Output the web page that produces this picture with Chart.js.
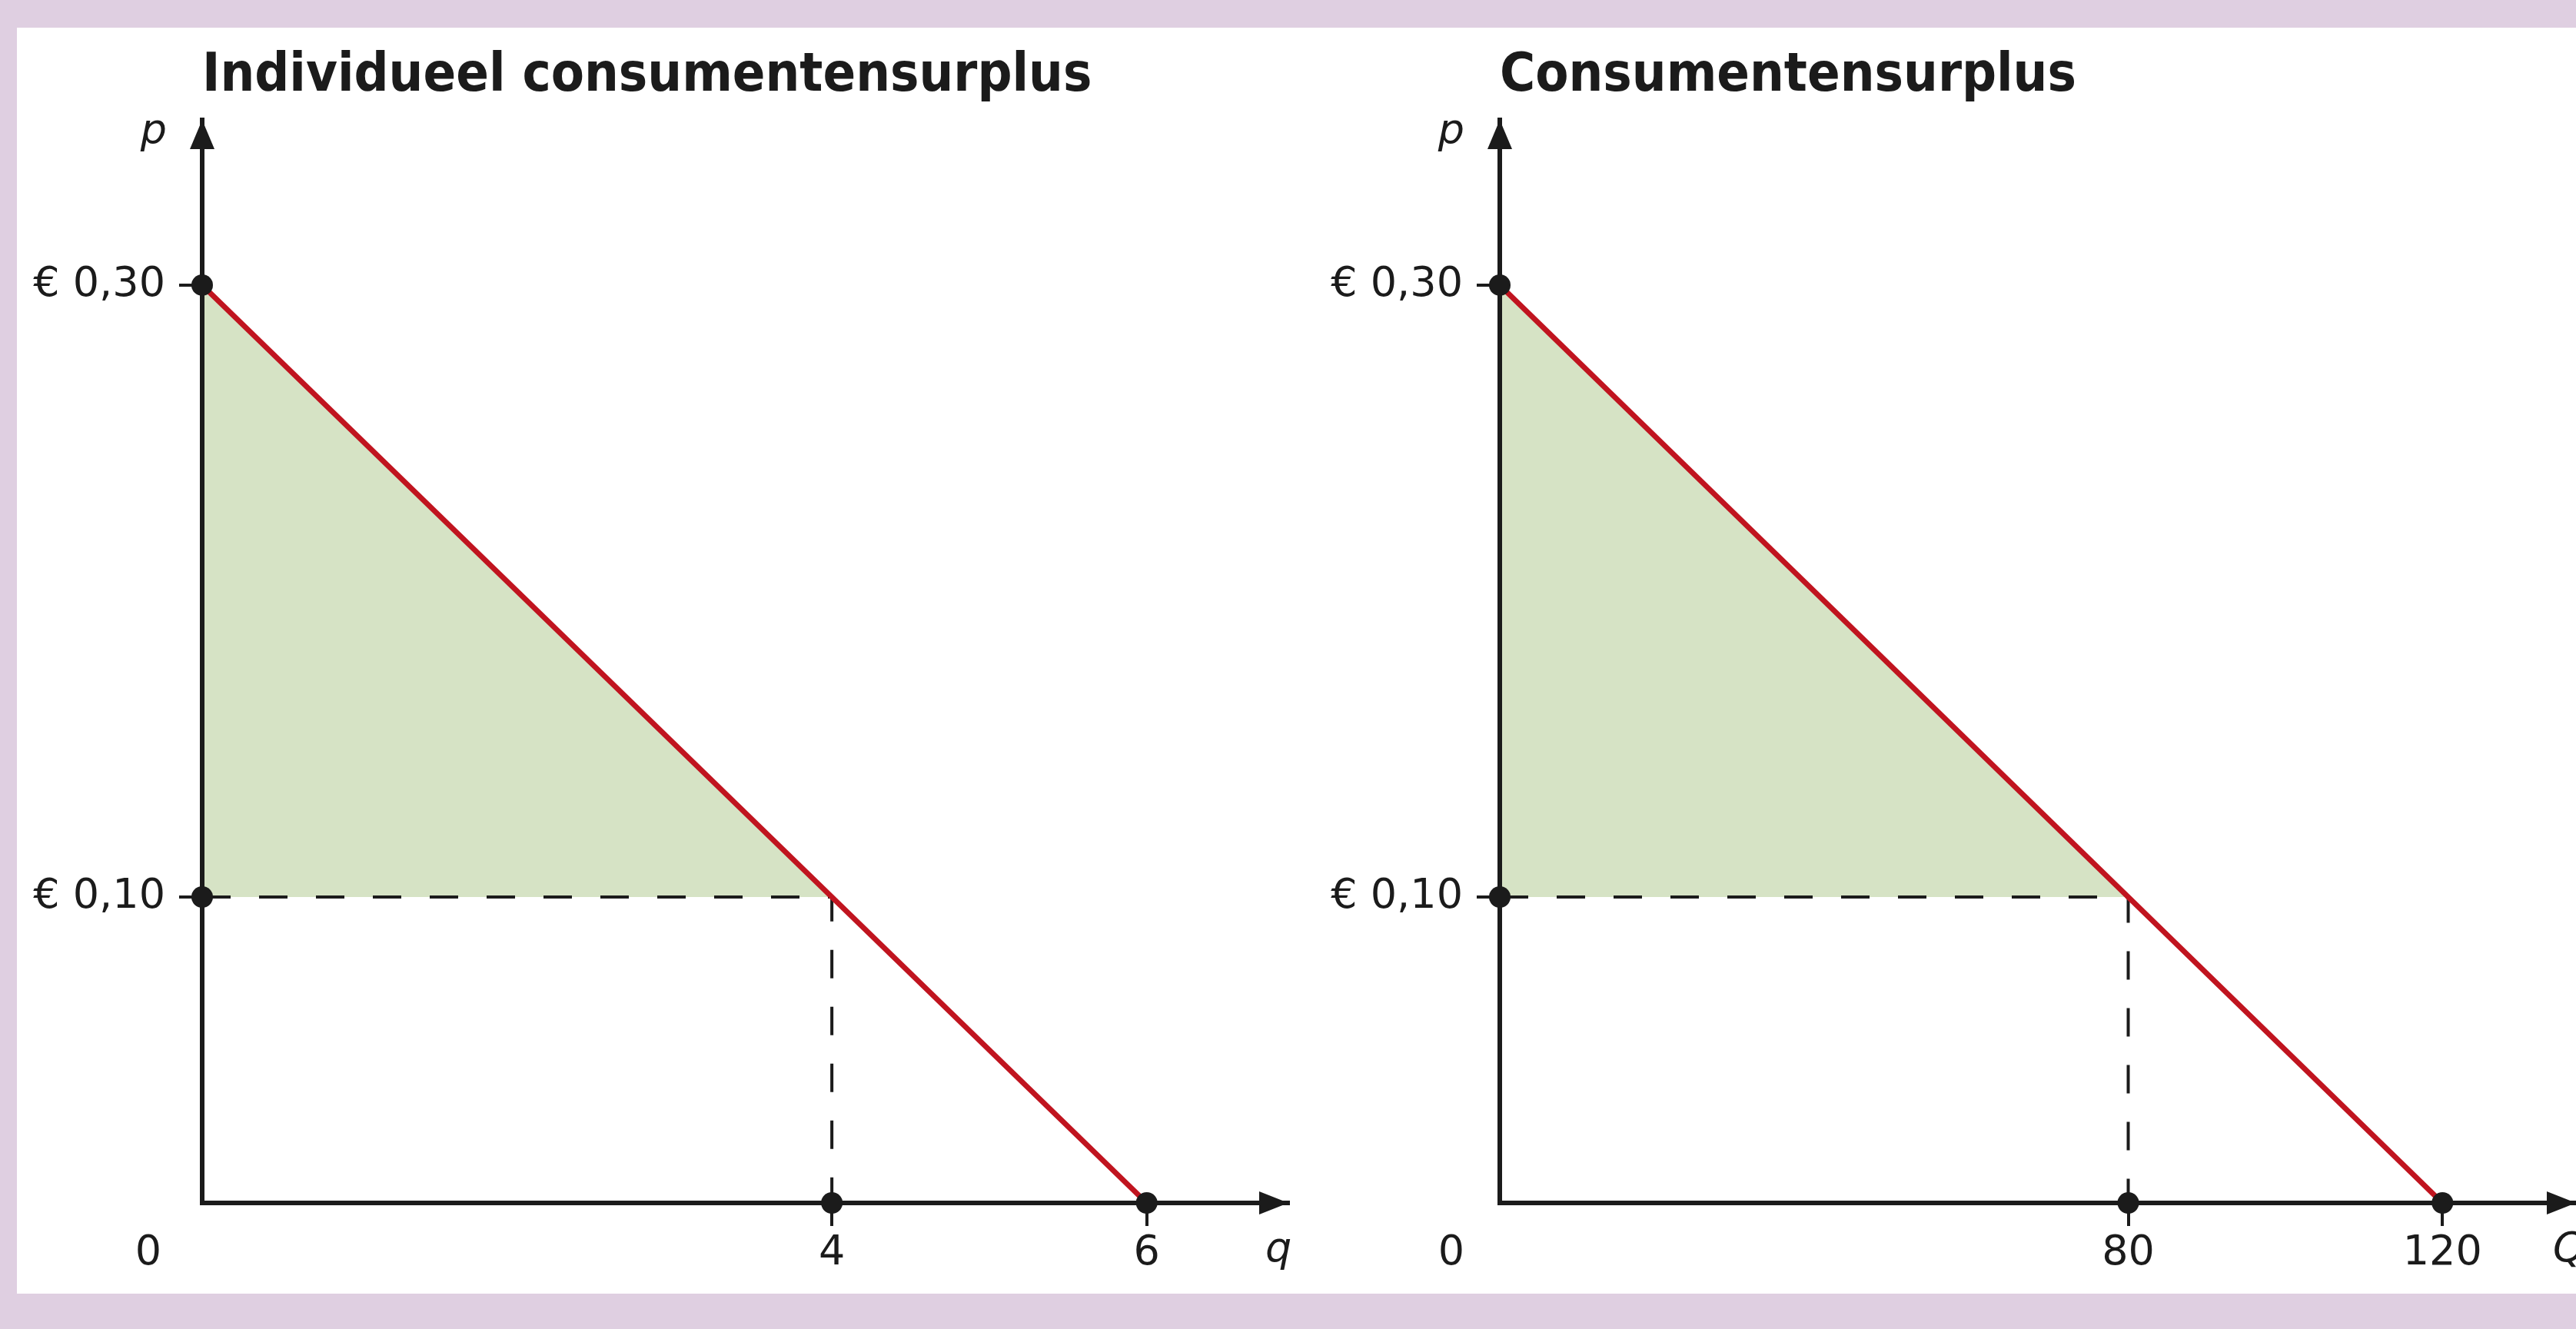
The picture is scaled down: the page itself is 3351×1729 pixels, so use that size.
<!DOCTYPE html>
<html lang="nl">
<head>
<meta charset="UTF-8">
<title>Consumentensurplus</title>
<style>
    html, body {
        margin: 0;
        padding: 0;
    }
    body {
        width: 3351px;
        height: 1729px;
        background: #dfcfe1;
        position: relative;
        overflow: hidden;
    }
    #panel {
        position: absolute;
        left: 22px;
        top: 36px;
        width: 3329px;
        height: 1647px;
        background: #fff;
        overflow: hidden;
    }
    canvas {
        position: absolute;
        top: 0;
    }
    #chartInd { left: 0; }
    #chartMkt { left: 1680px; }
</style>
</head>
<body>
<div id="panel">
    <canvas id="chartInd" width="1680" height="1647"></canvas>
    <canvas id="chartMkt" width="1649" height="1647"></canvas>
</div>

<script src="https://cdn.jsdelivr.net/npm/chart.js"></script>
<script>
    // prijzen (p) in euro
    const maxPrice = 0.30;      // prijs waarbij de vraag nul is
    const marketPrice = 0.10;   // marktprijs
    const priceTicks = [0.10, 0.30];
    const priceAxisMax = 0.354;

    // individuele vraag (q)
    const indQuantities = [4, 6];      // bij marktprijs, bij prijs 0
    const indAxisMax = 6.9;

    // marktvraag (Q)
    const mktQuantities = [80, 120];   // bij marktprijs, bij prijs 0
    const mktAxisMax = 137;

    const titles = ['Individueel consumentensurplus', 'Consumentensurplus'];
    const axisNames = [['p', 'q'], ['p', 'Q']];

    const ink = '#1b1b1b';
    const red = '#c0141f';
    const green = '#d6e3c5';
    const textFont = '"DejaVu Sans", sans-serif';
    const titleFont = '"DejaVu Sans Condensed", "DejaVu Sans", sans-serif';

    // pijlen op de assen + asnamen + oorsprong
    const axisDecor = {
        id: 'axisDecor',
        afterDraw(chart, args, opts) {
            const ctx = chart.ctx;
            const a = chart.chartArea;
            ctx.save();
            ctx.fillStyle = ink;
            // pijl y-as
            ctx.beginPath();
            ctx.moveTo(a.left, a.top);
            ctx.lineTo(a.left - 16, a.top + 38);
            ctx.lineTo(a.left + 16, a.top + 38);
            ctx.closePath();
            ctx.fill();
            // pijl x-as
            ctx.beginPath();
            ctx.moveTo(a.right, a.bottom);
            ctx.lineTo(a.right - 38, a.bottom - 15);
            ctx.lineTo(a.right - 38, a.bottom + 15);
            ctx.closePath();
            ctx.fill();

            ctx.font = 'italic 54px ' + textFont;
            ctx.textAlign = 'center';
            ctx.textBaseline = 'middle';
            ctx.fillText(opts.yName, a.left - 63, a.top + 16);
            ctx.textAlign = 'left';
            ctx.fillText(opts.xName, a.right - 30, a.bottom + 62);

            ctx.font = '54px ' + textFont;
            ctx.textAlign = 'center';
            ctx.fillText('0', a.left - opts.zeroOffset, a.bottom + 66);
            ctx.restore();
        }
    };

    function makeChart(canvasId, title, quantities, xMax, names, yAxisWidth, padRight, zeroOffset) {
        const qMarket = quantities[0];
        const qZero = quantities[1];

        const dots = [
            {x: 0, y: maxPrice},
            {x: 0, y: marketPrice},
            {x: qMarket, y: 0},
            {x: qZero, y: 0}
        ];
        const demand = [{x: 0, y: maxPrice}, {x: qZero, y: 0}];
        const surplus = [{x: 0, y: maxPrice}, {x: qMarket, y: marketPrice}];
        const dashed = [{x: 0, y: marketPrice}, {x: qMarket, y: marketPrice}, {x: qMarket, y: 0}];

        const noPadding = s => {
            s.paddingLeft = 0;
            s.paddingRight = 0;
            s.paddingTop = 0;
            s.paddingBottom = 0;
        };

        return new Chart(document.getElementById(canvasId), {
            type: 'line',
            data: {
                datasets: [
                    {
                        label: 'punten',
                        data: dots,
                        showLine: false,
                        pointRadius: 14,
                        pointBackgroundColor: ink,
                        pointBorderWidth: 0,
                        clip: false,
                        order: 0
                    },
                    {
                        label: 'vraag',
                        data: demand,
                        borderColor: red,
                        borderWidth: 7,
                        pointRadius: 0,
                        clip: false,
                        order: 1
                    },
                    {
                        label: 'stippellijn',
                        data: dashed,
                        borderColor: ink,
                        borderWidth: 4,
                        borderDash: [37, 37],
                        pointRadius: 0,
                        clip: false,
                        order: 2
                    },
                    {
                        label: 'consumentensurplus',
                        data: surplus,
                        borderColor: 'rgba(0,0,0,0)',
                        backgroundColor: green,
                        pointRadius: 0,
                        fill: {value: marketPrice},
                        clip: {left: -3, top: 0, right: 0, bottom: 0},
                        order: 3
                    }
                ]
            },
            options: {
                responsive: false,
                animation: false,
                events: [],
                layout: {
                    autoPadding: false,
                    padding: { left: 0, top: 0, bottom: 0, right: padRight }
                },
                scales: {
                    x: {
                        type: 'linear',
                        min: 0,
                        max: xMax,
                        afterBuildTicks: s => { s.ticks = quantities.map(v => ({value: v})); },
                        afterFit: s => { s.height = 118; noPadding(s); },
                        grid: { drawOnChartArea: false, drawTicks: true, tickLength: 30, color: ink, lineWidth: 4 },
                        border: { color: ink, width: 6 },
                        ticks: {
                            color: ink,
                            font: { family: textFont, size: 54 },
                            padding: 4,
                            maxRotation: 0,
                            autoSkip: false,
                            callback: v => String(v)
                        }
                    },
                    y: {
                        type: 'linear',
                        min: 0,
                        max: priceAxisMax,
                        afterBuildTicks: s => { s.ticks = priceTicks.map(v => ({value: v})); },
                        afterFit: s => { s.width = yAxisWidth; noPadding(s); },
                        grid: { drawOnChartArea: false, drawTicks: true, tickLength: 30, color: ink, lineWidth: 4 },
                        border: { color: ink, width: 6 },
                        ticks: {
                            color: ink,
                            font: { family: textFont, size: 54 },
                            padding: 18,
                            autoSkip: false,
                            callback: v => '€ ' + v.toFixed(2).replace('.', ',')
                        }
                    }
                },
                plugins: {
                    legend: { display: false },
                    tooltip: { enabled: false },
                    title: {
                        display: true,
                        text: title,
                        align: 'start',
                        fullSize: false,
                        color: ink,
                        font: { family: titleFont, size: 70, weight: 'bold', lineHeight: 1.2 },
                        padding: { top: 22, bottom: 14 }
                    },
                    axisDecor: { yName: names[0], xName: names[1], zeroOffset: zeroOffset }
                }
            },
            plugins: [axisDecor]
        });
    }

    makeChart('chartInd', titles[0], indQuantities, indAxisMax, axisNames[0], 241, 26, 70);
    makeChart('chartMkt', titles[1], mktQuantities, mktAxisMax, axisNames[1], 249, 0, 63);
</script>
</body>
</html>
